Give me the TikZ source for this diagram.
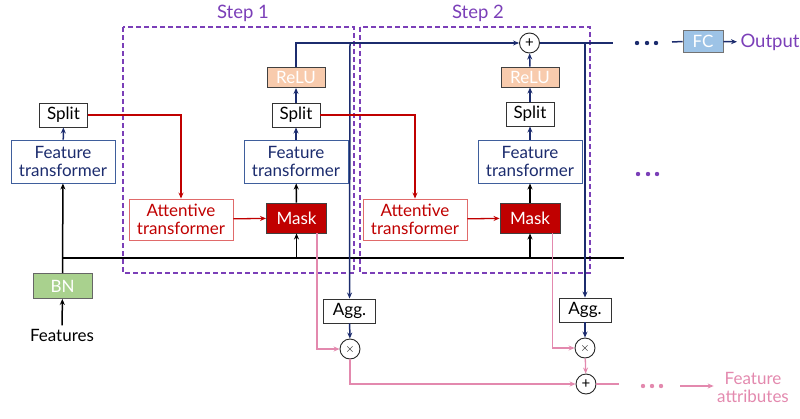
\documentclass[tikz,border=0pt]{standalone}
\usepackage{fontspec}
\setmainfont{Lato}
\usetikzlibrary{arrows.meta}
\definecolor{navy}{HTML}{1C2C6E}
\definecolor{ftblue}{HTML}{3F5E9C}
\definecolor{maskred}{HTML}{C00000}
\definecolor{atred}{HTML}{E06A6A}
\definecolor{pinkc}{HTML}{E389AE}
\definecolor{purp}{HTML}{7B3FB8}
\definecolor{reluc}{HTML}{F8CBAD}
\definecolor{bng}{HTML}{A9D18E}
\definecolor{fcb}{HTML}{9DC3E6}
\begin{document}
\begin{tikzpicture}[x=1pt,y=-1pt,
  font=\fontsize{17}{20}\selectfont,
  tip/.style={-{Stealth[length=6pt,width=5pt]}},
  bx/.style={rectangle,inner sep=0pt,line width=0.9pt},
  plain/.style={bx,draw=black!80,fill=white,text=black},
  ft/.style={bx,draw=ftblue,fill=white,text=navy,align=center,minimum width=104pt,minimum height=43pt},
  attb/.style={bx,draw=atred,fill=white,text=maskred,align=center,minimum width=104pt,minimum height=41pt},
  mask/.style={bx,draw=black!75,fill=maskred,text=white,minimum width=60pt,minimum height=30pt},
  relu/.style={bx,draw=black!75,fill=reluc,text=white,minimum width=58pt,minimum height=20pt},
  splitb/.style={plain,minimum width=48pt,minimum height=24pt},
  aggb/.style={plain,minimum width=52pt,minimum height=24pt},
  op/.style={circle,draw=black!85,fill=white,inner sep=0pt,minimum size=20pt,line width=0.9pt,font=\fontsize{13}{13}\selectfont},
  navl/.style={draw=navy,line width=1.5pt},
  nava/.style={navl,tip},
  blkl/.style={draw=black,line width=1.5pt},
  blka/.style={blkl,tip},
  redl/.style={draw=maskred,line width=1.3pt,tip},
  pinkl/.style={draw=pinkc,line width=1.3pt},
  pinka/.style={pinkl,tip},
  stepbox/.style={draw=purp,line width=1.3pt,dash pattern=on 5pt off 3pt},
  big/.style={font=\fontsize{18.5}{22}\selectfont},
]
\useasboundingbox (0,0) rectangle (800,418);

% step frames
\draw[stepbox] (123,27) rectangle (354,273);
\draw[stepbox] (360,27) rectangle (590,273);
\node[big,text=purp] (s1) at (243,13) {Step 1};
\node[big,text=purp] (s2) at (478,13) {Step 2};

% left column
\node (feat) at (62,335) {Features};
\node[bx,draw=black!60,fill=bng,text=white,minimum width=59pt,minimum height=25pt] (bn) at (62.5,286) {BN};
\node[ft] (ft0) at (63,161.5) {Feature\\[-2pt]transformer};
\node[splitb] (split0) at (63.5,115) {Split};

% step 1
\node[attb] (at1) at (181,219.5) {Attentive\\[-2pt]transformer};
\node[mask] (mask1) at (296.5,218) {Mask};
\node[ft] (ft1) at (296,161.5) {Feature\\[-2pt]transformer};
\node[splitb] (split1) at (296,115) {Split};
\node[relu] (relu1) at (296,77.5) {ReLU};
\node[aggb] (agg1) at (349.5,311) {Agg.};
\node[op] (times1) at (350,349) {$\times$};

% step 2
\node[attb] (at2) at (415,219.5) {Attentive\\[-2pt]transformer};
\node[mask] (mask2) at (530,218) {Mask};
\node[ft] (ft2) at (530,161.5) {Feature\\[-2pt]transformer};
\node[splitb] (split2) at (530,114) {Split};
\node[relu] (relu2) at (530,77) {ReLU};
\node[op,font=\fontsize{15}{15}\selectfont] (plus1) at (529.5,43) {+};
\node[aggb] (agg2) at (585,310) {Agg.};
\node[op] (times2) at (585,348) {$\times$};
\node[op,font=\fontsize{15}{15}\selectfont] (plus2) at (586,384) {+};

% output side
\node[bx,draw=black!55,fill=fcb,text=white,minimum width=40pt,minimum height=22pt] (fc) at (703,41.5) {FC};
\node[big,text=purp,anchor=west] (out) at (737,42) {Output};
\node[text=pinkc,align=center] (fa) at (753,387) {Feature\\[-2pt]attributes};

\coordinate (busL) at (62,258);
\coordinate (busR) at (624,258);
\coordinate (b1) at (350,43);
\coordinate (topR) at (613,43);
\coordinate (fcin) at (672,42);
\coordinate (pinkR) at (619,384);
\coordinate (fastart) at (680,386);

% black connectors
\draw[blka] (feat) -- (bn);
\draw[blka] (bn) -- (ft0);
\draw[blkl] (busL) -- (busR);
\draw[blka] (mask1 |- busL) -- (mask1);
\draw[blka] (mask2 |- busL) -- (mask2);
\draw[blka] (mask1) -- (ft1);
\draw[blka] (mask2) -- (ft2);

% navy
\draw[nava] (ft0) -- (split0);
\draw[nava] (ft1) -- (split1);
\draw[nava] (split1) -- (relu1);
\draw[nava] (ft2) -- (split2);
\draw[nava] (split2) -- (relu2);
\draw[nava] (relu2) -- (plus1);
\draw[nava,line width=1.8pt] (relu1.north) |- (plus1.west);
\draw[navl,line width=1.8pt] (plus1.east) -- (topR);
\draw[nava] (b1) -- (agg1);
\draw[nava] (agg2 |- topR) -- (agg2);
\draw[nava] (agg1) -- (times1);
\draw[nava] (agg2) -- (times2);
\draw[navl] (fcin) -- (fc.west);
\draw[nava] (fc) -- (out);

% red
\draw[redl] (split0.east) -| (at1.north);
\draw[redl] (split1.east) -| (at2.north);
\draw[redl] (at1) -- (mask1);
\draw[redl] (at2) -- (mask2);

% pink
\draw[pinka] ([xshift=-10pt]mask1.south east) |- (times1.west);
\draw[pinka] ([xshift=-8pt]mask2.south east) |- (times2.west);
\draw[pinka] (times1.south) |- (plus2.west);
\draw[pinka] (times2) -- (plus2);
\draw[pinkl] (plus2.east) -- (pinkR);
\draw[pinka] (fastart) -- (fa.west |- fastart);

% dots
\foreach \x in {637,647,656} \fill[navy] (\x,43) circle (2.2pt);
\foreach \x in {638,648,657} \fill[purp] (\x,174) circle (2.2pt);
\foreach \x in {643,652,661} \fill[pinkc] (\x,386) circle (2.2pt);
\end{tikzpicture}
\end{document}
